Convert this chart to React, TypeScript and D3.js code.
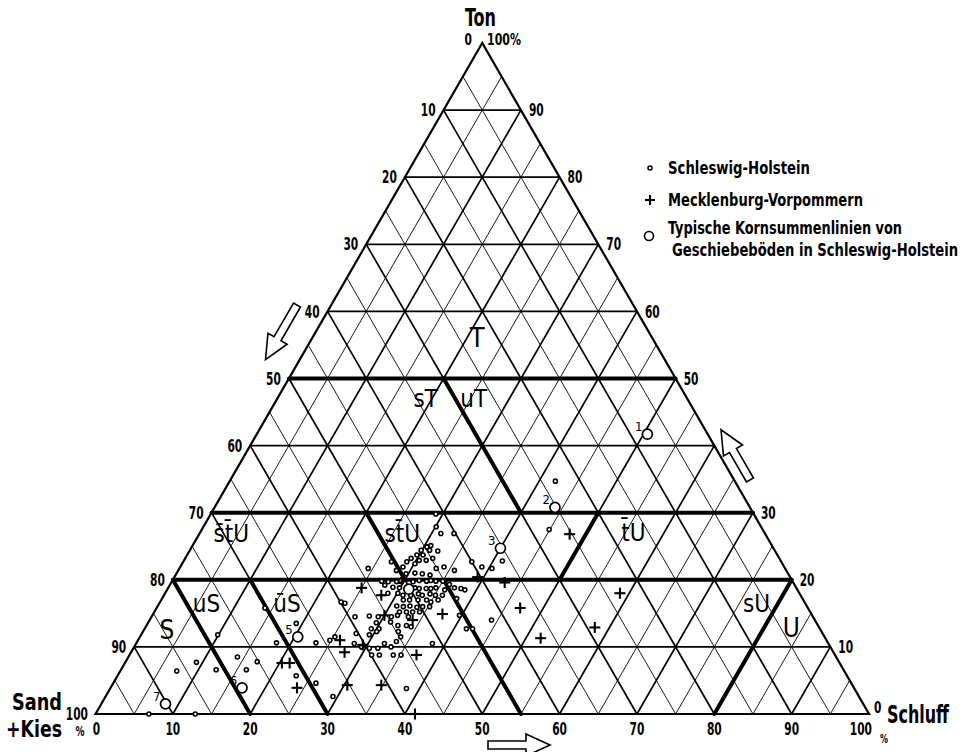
import React from "react";
import * as d3 from "d3";

// ---------- data ----------
// Schleswig-Holstein samples: [Ton %, Schluff %]
const schleswigHolstein: [number, number][] = [
  [29.8, 29.1], [27.9, 30.1], [26.9, 31.2], [26.9, 32.9], [25.1, 30.8], [24.9, 30.4], [24.4, 29.9], [24.4, 31.0],
  [24.3, 32.1], [23.7, 29.7], [23.7, 30.5], [23.2, 29.2], [22.9, 30.4], [22.9, 31.3], [23.2, 32.0], [22.7, 28.9],
  [22.4, 30.1], [22.7, 26.9], [21.9, 28.8], [21.7, 33.2], [21.9, 34.1], [21.4, 35.7], [22.7, 37.3], [21.7, 40.4],
  [22.8, 41.2], [21.7, 24.4], [21.4, 28.2], [20.9, 29.7], [21.0, 30.8], [20.9, 31.8], [20.7, 32.9], [19.8, 27.1],
  [19.7, 28.0], [19.7, 29.1], [19.9, 29.5], [19.7, 31.2], [19.9, 31.9], [19.8, 32.9], [19.9, 33.4], [19.8, 34.1],
  [19.8, 35.0], [19.3, 36.1], [18.8, 37.0], [18.7, 37.9], [18.5, 38.5], [19.2, 27.8], [18.9, 29.0], [18.8, 29.9],
  [18.8, 31.9], [18.7, 32.5], [18.7, 33.4], [18.7, 34.0], [18.8, 34.6], [18.5, 35.9], [18.0, 28.8], [18.0, 30.1],
  [17.7, 30.9], [17.7, 31.9], [17.9, 32.8], [17.7, 33.4], [17.9, 34.3], [17.7, 35.1], [17.7, 36.0], [17.2, 38.1],
  [17.0, 31.3], [17.0, 32.1], [17.0, 33.2], [17.0, 34.3], [16.7, 35.0], [17.0, 35.8], [16.7, 23.4], [16.5, 24.0],
  [16.1, 30.9], [16.0, 31.8], [16.1, 32.6], [15.9, 33.6], [16.0, 34.3], [16.0, 35.2], [15.2, 31.7], [15.2, 32.6],
  [15.2, 33.4], [15.2, 34.3], [14.5, 26.3], [14.6, 28.1], [14.5, 29.3], [14.5, 31.0], [14.7, 31.7], [14.5, 33.2],
  [14.7, 39.7], [13.6, 29.5], [13.7, 31.3], [13.2, 32.5], [13.2, 33.6], [13.0, 34.3], [12.7, 30.3], [12.7, 29.3],
  [12.3, 30.2], [12.3, 33.0], [12.7, 41.6], [12.7, 42.4], [14.0, 44.2], [12.0, 27.7], [11.8, 29.5], [11.5, 33.7],
  [10.8, 33.5], [10.5, 28.2], [10.0, 29.4], [10.5, 32.1], [9.8, 31.6], [10.0, 33.2], [9.8, 30.5], [8.8, 31.3],
  [8.8, 32.3], [8.8, 34.1], [8.8, 35.1], [10.5, 38.3], [11.0, 24.8], [11.5, 25.2], [2.6, 29.4], [3.8, 38.3],
  [34.7, 42.1], [27.5, 44.9], [21.9, 39.0], [13.5, 19.2], [15.8, 14.0], [11.8, 9.9], [10.6, 18.1], [10.6, 23.2],
  [7.7, 9.2], [6.4, 7.3], [6.6, 12.3], [8.5, 14.1], [6.6, 16.2], [7.8, 17.0], [5.7, 23.1], [4.6, 26.2],
  [0, 6.9], [0, 12.9],
];

// Mecklenburg-Vorpommern samples: [Ton %, Schluff %]
const mecklenburg: [number, number][] = [
  [26.8, 47.9], [19.6, 43.1], [20.4, 39.2], [15.8, 47.0], [18.0, 58.8], [12.9, 58.1], [11.3, 51.9], [14.9, 37.4],
  [14.0, 34.0], [18.8, 25.0], [17.7, 28.1], [14.7, 30.0], [11.0, 26.1], [10.3, 29.4], [9.2, 27.6], [8.8, 37.1],
  [4.3, 30.4], [4.3, 34.8], [0, 41.3], [7.6, 20.3], [7.6, 21.3], [3.9, 24.1],
];

// Typical grain-size curves (numbered circles)
const typicalLabels = ["1", "2", "3", "4", "5", "6", "7"];
const typicalTon = [41.7, 30.8, 24.7, 18.6, 11.5, 3.9, 1.5];
const typicalSchluff = [50.5, 44.0, 40.0, 31.2, 20.4, 17.0, 8.3];

// Soil class boundaries: [[Ton, Schluff], [Ton, Schluff]]
const boundaries: [number, number][][] = [
  [[50, 0], [50, 50]],
  [[30, 0], [30, 70]],
  [[20, 0], [20, 80]],
  [[50, 20], [30, 40]],
  [[30, 20], [20, 30]],
  [[20, 35], [0, 55]],
  [[30, 50], [20, 50]],
  [[20, 0], [0, 20]],
  [[20, 10], [0, 30]],
  [[20, 80], [0, 80]],
];

// Soil class labels and their positions [Ton, Schluff]
const classNames = ["T", "sT", "uT", "s\u0304t\u0304U", "st\u0304U", "t\u0304U", "uS", "\u016BS", "S", "sU", "U"];
const classTon = [56.1, 47.0, 47.0, 26.9, 26.9, 27.1, 16.5, 16.5, 12.5, 16.5, 12.9];
const classSchluff = [21.3, 19.2, 25.4, 4.1, 26.2, 56.0, 6.1, 16.5, 3.0, 77.2, 83.5];
const classSizes = [27, 24, 24, 24, 24, 24, 24, 24, 26, 24, 26];

const gridSteps = d3.range(5, 100, 5);
const tonSteps = d3.range(10, 100, 10);
const schluffTicks = d3.range(0, 100, 10); // 0..90 ; 100% drawn separately
const sandTicks = d3.range(10, 100, 10);
const tonTicks = d3.range(10, 100, 10);

const legendItems = ["Schleswig-Holstein", "Mecklenburg-Vorpommern"];
const legendCircleLines = ["Typische Kornsummenlinien von", "Geschiebeböden in Schleswig-Holstein"];

const FONT = "'DejaVu Sans Condensed', 'DejaVu Sans', sans-serif";

// ---------- scales ----------
const xS = d3.scaleLinear().domain([0, 100]).range([95.5, 869]);
const yS = d3.scaleLinear().domain([0, 100]).range([714, 43]);
const px = (t: number, u: number) => xS(u + t / 2);
const py = (t: number) => yS(t);

function arrowPath(len: number, shaftW: number, headW: number, headL: number) {
  const s = shaftW / 2, h = headW / 2, b = len - headL;
  return `M0,${-s}L${b},${-s}L${b},${-h}L${len},0L${b},${h}L${b},${s}L0,${s}Z`;
}

// condensed text: natural font size chosen so its width is about `width`, then stretched vertically to `size`
function CText({ x, y, text, width, size, anchor = "start", bold = true, ratio = 0.6 }:
  { x: number; y: number; text: string; width: number; size: number; anchor?: string; bold?: boolean; ratio?: number }) {
  const f = Math.min(size, width / (text.length * ratio));
  const k = size / f;
  return (
    <text transform={`translate(${x},${y}) scale(1,${k})`} x={0} y={0} textAnchor={anchor} fontSize={f}
      fontWeight={bold ? "bold" : "normal"} textLength={width} lengthAdjust="spacingAndGlyphs">{text}</text>
  );
}

function Num({ x, y, v, anchor, size = 17 }: { x: number; y: number; v: string; anchor: string; size?: number }) {
  // y is the vertical centre of the digits
  return <CText x={x} y={y + size * 0.36} text={v} width={v.length * 7.4} size={size} anchor={anchor} />;
}

export default function App() {
  const lines: JSX.Element[] = [];
  gridSteps.forEach((v) => {
    const w = v % 10 === 0 ? 1.7 : 0.9;
    lines.push(<line key={`s${v}`} x1={px(100 - v, 0)} y1={py(100 - v)} x2={px(0, 100 - v)} y2={py(0)} stroke="#000" strokeWidth={w} />);
    lines.push(<line key={`u${v}`} x1={px(0, v)} y1={py(0)} x2={px(100 - v, v)} y2={py(100 - v)} stroke="#000" strokeWidth={w} />);
  });
  tonSteps.forEach((v) => {
    lines.push(<line key={`t${v}`} x1={px(v, 0)} y1={py(v)} x2={px(v, 100 - v)} y2={py(v)} stroke="#000" strokeWidth={1.7} />);
  });

  const tri = `M${px(0, 0)},${py(0)}L${px(100, 0)},${py(100)}L${px(0, 100)},${py(0)}Z`;

  const cross = (cx: number, cy: number, k: string, s = 5.5) => (
    <g key={k} stroke="#000" strokeWidth={2.1}>
      <line x1={cx - s} y1={cy} x2={cx + s} y2={cy} />
      <line x1={cx} y1={cy - s} x2={cx} y2={cy + s} />
    </g>
  );

  return (
    <svg width={966} height={752} viewBox="0 0 966 752" style={{ display: "block", position: "absolute", left: 0, top: 0, background: "#fff" }} fontFamily={FONT}>
      <rect x={0} y={0} width={966} height={752} fill="#fff" />
      {lines}
      <path d={tri} fill="none" stroke="#000" strokeWidth={2.2} strokeLinejoin="miter" />
      {boundaries.map((b, i) => (
        <line key={`b${i}`} x1={px(b[0][0], b[0][1])} y1={py(b[0][0])} x2={px(b[1][0], b[1][1])} y2={py(b[1][0])} stroke="#000" strokeWidth={4} strokeLinecap="round" />
      ))}

      {/* class labels */}
      {classNames.map((n, i) => (
        <text key={`c${i}`} x={px(classTon[i], classSchluff[i])} y={py(classTon[i])} dy="0.36em" textAnchor="middle" fontSize={classSizes[i]} fill="#000">{n}</text>
      ))}

      {/* data points */}
      {schleswigHolstein.map((d, i) => (
        <circle key={`d${i}`} cx={px(d[0], d[1])} cy={py(d[0])} r={2} fill="#fff" stroke="#000" strokeWidth={1.6} />
      ))}
      {mecklenburg.map((d, i) => cross(px(d[0], d[1]), py(d[0]), `m${i}`))}
      {typicalLabels.map((l, i) => {
        const cx = px(typicalTon[i], typicalSchluff[i]);
        const cy = py(typicalTon[i]);
        return (
          <g key={`ty${i}`}>
            <circle cx={cx} cy={cy} r={5} fill="#fff" stroke="#000" strokeWidth={1.7} />
            <text x={cx - 5} y={cy - 3} textAnchor="end" fontSize={13}>{l}</text>
          </g>
        );
      })}

      {/* axis labels: Sand (left) */}
      {sandTicks.map((v) => (
        <Num key={`ls${v}`} x={px(100 - v, 0) - 8} y={py(100 - v)} v={String(v)} anchor="end" />
      ))}
      <Num x={88} y={714} v="100" anchor="end" />
      <CText x={80} y={736} text="%" width={9} size={14} anchor="middle" />
      {/* Ton (right) */}
      {tonTicks.map((v) => (
        <Num key={`rt${v}`} x={px(v, 100 - v) + 8} y={py(v)} v={String(v)} anchor="start" />
      ))}
      <Num x={874} y={708} v="0" anchor="start" size={15} />
      {/* Schluff (bottom) */}
      {schluffTicks.map((v) => (
        <Num key={`bu${v}`} x={xS(v) + (v === 0 ? 1 : 0)} y={729} v={String(v)} anchor="middle" />
      ))}
      <Num x={872} y={729} v="100" anchor="end" />
      <CText x={884} y={743} text="%" width={8} size={12} anchor="middle" />
      {/* top */}
      <Num x={472} y={40} v="0" anchor="end" size={15} />
      <CText x={487} y={45} text="100%" width={34} size={15} />

      {/* titles */}
      <CText x={465} y={26} text="Ton" width={31} size={24} />
      <CText x={887} y={723} text="Schluff" width={62} size={24} />
      <CText x={12} y={710} text="Sand" width={50} size={23} />
      <CText x={6} y={737} text="+Kies" width={56} size={23} />

      {/* arrows */}
      <path d={arrowPath(63, 8, 22, 24)} transform="translate(297,305) rotate(120)" fill="#fff" stroke="#000" strokeWidth={1.6} strokeLinejoin="miter" />
      <path d={arrowPath(58, 8, 22, 24)} transform="translate(750,480) rotate(-120)" fill="#fff" stroke="#000" strokeWidth={1.6} strokeLinejoin="miter" />
      <path d={arrowPath(62, 8, 22, 24)} transform="translate(488,745)" fill="#fff" stroke="#000" strokeWidth={1.6} strokeLinejoin="miter" />

      {/* legend */}
      <circle cx={650} cy={168} r={2} fill="#fff" stroke="#000" strokeWidth={1.5} />
      <CText x={668} y={174} text={legendItems[0]} width={142} size={17} />
      {cross(650, 200, "legcross", 5)}
      <CText x={668} y={206} text={legendItems[1]} width={195} size={17} />
      <circle cx={649} cy={236} r={4.5} fill="#fff" stroke="#000" strokeWidth={1.6} />
      <CText x={668} y={234} text={legendCircleLines[0]} width={234} size={17} />
      <CText x={672} y={256} text={legendCircleLines[1]} width={286} size={17} />
    </svg>
  );
}
